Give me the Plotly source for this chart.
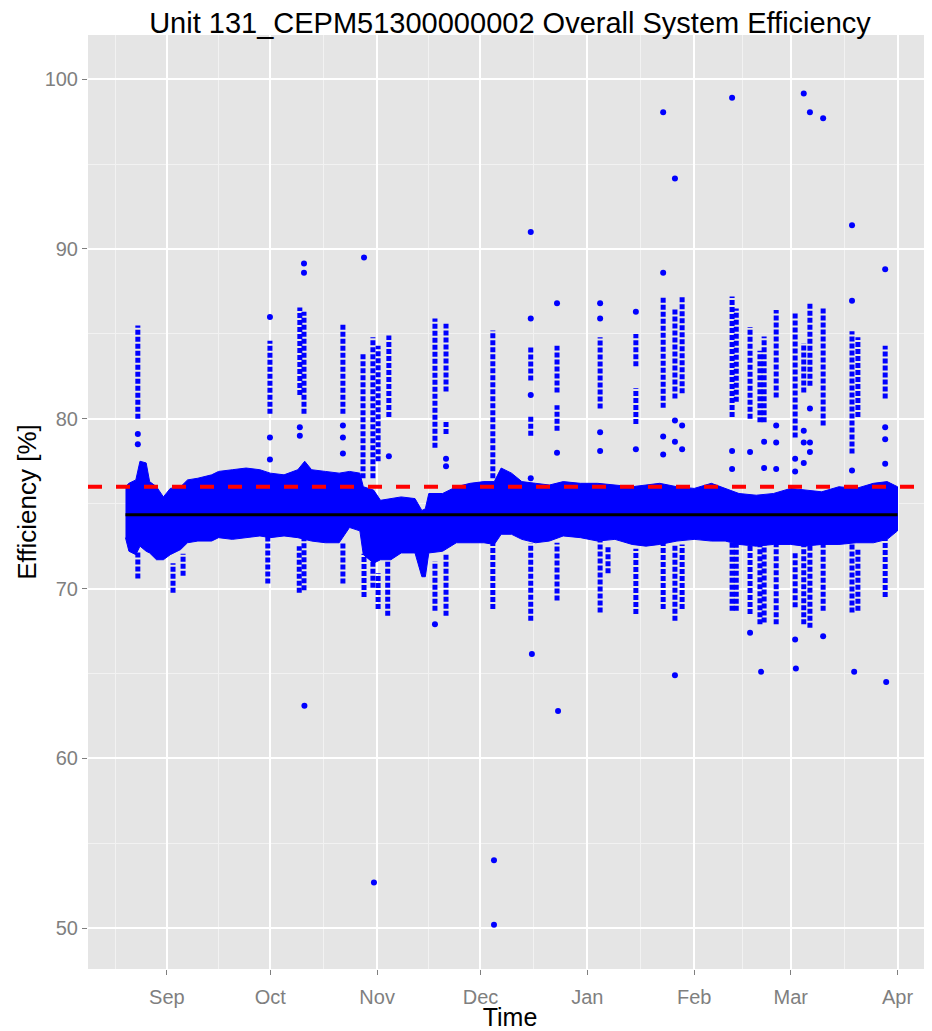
import plotly.graph_objects as go
import pandas as pd

title_text = "Unit 131_CEPM51300000002 Overall System Efficiency"
x_title = "Time"
y_title = "Efficiency [%]"

month_ticks = ["2013-09-01", "2013-10-01", "2013-11-01", "2013-12-01",
               "2014-01-01", "2014-02-01", "2014-03-01", "2014-04-01"]
month_labels = ["Sep", "Oct", "Nov", "Dec", "Jan", "Feb", "Mar", "Apr"]
y_ticks = [50, 60, 70, 80, 90, 100]
y_minor = [55, 65, 75, 85, 95]

# envelope of the dense cloud of efficiency readings
band_dates = ["2013-08-20 00:00", "2013-08-21 00:00", "2013-08-23 00:00", "2013-08-24 05:00",
              "2013-08-26 00:00", "2013-08-27 00:00", "2013-08-29 00:00", "2013-08-31 00:00",
              "2013-09-02 00:00", "2013-09-05 00:00", "2013-09-07 00:00", "2013-09-10 00:00",
              "2013-09-14 00:00", "2013-09-16 00:00", "2013-09-20 00:00", "2013-09-24 00:00",
              "2013-09-28 00:00", "2013-10-01 00:00", "2013-10-05 00:00", "2013-10-09 00:00",
              "2013-10-11 00:00", "2013-10-13 00:00", "2013-10-17 00:00", "2013-10-21 00:00",
              "2013-10-24 00:00", "2013-10-27 00:00", "2013-10-28 00:00", "2013-10-31 00:00",
              "2013-11-02 00:00", "2013-11-05 00:00", "2013-11-08 00:00", "2013-11-12 00:00",
              "2013-11-14 00:00", "2013-11-15 00:00", "2013-11-16 00:00", "2013-11-20 00:00",
              "2013-11-24 00:00", "2013-11-28 00:00", "2013-12-02 00:00", "2013-12-05 00:00",
              "2013-12-07 00:00", "2013-12-10 00:00", "2013-12-13 00:00", "2013-12-17 00:00",
              "2013-12-21 00:00", "2013-12-25 00:00", "2013-12-30 00:00", "2014-01-04 00:00",
              "2014-01-09 00:00", "2014-01-14 00:00", "2014-01-18 00:00", "2014-01-22 00:00",
              "2014-01-27 00:00", "2014-02-01 00:00", "2014-02-06 00:00", "2014-02-10 00:00",
              "2014-02-14 00:00", "2014-02-19 00:00", "2014-02-24 00:00", "2014-03-01 00:00",
              "2014-03-05 00:00", "2014-03-10 00:00", "2014-03-15 00:00", "2014-03-20 00:00",
              "2014-03-25 00:00", "2014-03-29 00:00", "2014-04-01 00:00"]
band_upper = [76.0, 76.2, 76.4, 77.5, 77.4, 76.3, 76.0, 75.4,
              75.9, 76.0, 76.4, 76.5, 76.7, 76.9, 77.0, 77.1,
              77.0, 76.8, 76.7, 77.0, 77.5, 77.0, 76.9, 76.8,
              76.9, 76.8, 76.0, 75.8, 75.2, 75.3, 75.4, 75.3,
              74.6, 74.7, 75.6, 75.6, 76.0, 76.2, 76.3, 76.3,
              77.1, 76.8, 76.3, 76.2, 76.1, 76.3, 76.2, 76.2,
              76.1, 76.0, 76.1, 76.2, 76.0, 75.9, 76.2, 75.9,
              75.6, 75.5, 75.6, 75.9, 75.8, 75.7, 76.0, 75.9,
              76.2, 76.3, 76.0]
band_lower = [73.0, 72.2, 72.0, 72.5, 72.2, 72.1, 71.7, 71.7,
              72.0, 72.3, 72.7, 72.8, 72.8, 73.0, 72.9, 73.0,
              73.1, 73.0, 73.1, 73.0, 72.9, 72.8, 72.7, 72.7,
              73.6, 73.4, 72.0, 71.5, 71.7, 71.7, 72.1, 72.1,
              70.7, 70.7, 72.1, 72.2, 72.7, 72.7, 72.7, 72.6,
              73.2, 73.2, 72.9, 72.7, 72.8, 73.1, 73.0, 72.8,
              72.9, 72.6, 72.5, 72.6, 72.8, 72.9, 72.8, 72.8,
              72.6, 72.5, 72.6, 72.6, 72.5, 72.6, 72.6, 72.7,
              72.7, 72.9, 73.4]

# vertical streaks of readings (date, lowest, highest)
streak_dates = ["2013-08-23 14:00", "2013-09-30 22:00", "2013-10-09 14:00", "2013-10-10 19:00",
                "2013-10-22 02:00", "2013-10-27 22:00", "2013-10-30 19:00", "2013-11-01 07:00",
                "2013-11-04 10:00", "2013-11-17 19:00", "2013-11-21 00:00", "2013-11-21 00:00",
                "2013-12-04 14:00", "2013-12-15 14:00", "2013-12-15 14:00", "2013-12-23 05:00",
                "2013-12-23 05:00", "2014-01-04 17:00", "2014-01-15 02:00", "2014-01-15 02:00",
                "2014-01-23 00:00", "2014-01-26 10:00", "2014-01-28 12:00", "2014-02-12 00:00",
                "2014-02-13 05:00", "2014-02-17 05:00", "2014-02-20 02:00", "2014-02-21 07:00",
                "2014-02-24 19:00", "2014-03-02 07:00", "2014-03-04 19:00", "2014-03-06 14:00",
                "2014-03-10 10:00", "2014-03-18 19:00", "2014-03-20 12:00", "2014-03-28 10:00",
                "2013-08-23 14:00", "2013-09-02 19:00", "2013-09-05 17:00", "2013-09-30 07:00",
                "2013-10-09 10:00", "2013-10-10 19:00", "2013-10-22 02:00", "2013-10-28 05:00",
                "2013-10-30 19:00", "2013-11-01 07:00", "2013-11-04 02:00", "2013-11-17 19:00",
                "2013-11-21 00:00", "2013-12-04 14:00", "2013-12-15 14:00", "2013-12-23 05:00",
                "2014-01-04 17:00", "2014-01-07 00:00", "2014-01-15 02:00", "2014-01-23 00:00",
                "2014-01-26 10:00", "2014-01-28 12:00", "2014-02-12 00:00", "2014-02-13 05:00",
                "2014-02-17 05:00", "2014-02-20 02:00", "2014-02-21 07:00", "2014-02-24 19:00",
                "2014-03-02 07:00", "2014-03-04 19:00", "2014-03-06 14:00", "2014-03-10 10:00",
                "2014-03-18 19:00", "2014-03-20 12:00", "2014-03-28 10:00"]
streak_low = [80.0, 80.3, 81.4, 80.3, 80.3, 76.5, 76.5, 77.5,
              80.1, 78.3, 81.6, 79.1, 76.5, 82.25, 79.0, 81.55,
              79.3, 80.6, 83.1, 79.7, 80.65, 81.2, 81.5, 80.1,
              81.0, 80.0, 79.8, 79.8, 81.25, 78.9, 81.55, 81.95,
              79.6, 77.95, 80.1, 81.2,
              70.6, 69.75, 70.75, 70.3, 69.75, 69.9, 70.3, 69.5,
              70.05, 68.8, 68.4, 68.7, 68.4, 68.8, 68.1, 69.3,
              68.6, 70.9, 68.5, 68.8, 68.1, 68.8, 68.7, 68.7,
              68.5, 67.9, 68.0, 67.9, 68.9, 67.9, 67.7, 68.7,
              68.6, 68.7, 69.5]
streak_high = [85.5, 84.6, 86.55, 86.3, 85.55, 83.9, 84.8, 84.3,
               84.9, 85.9, 85.6, 79.9, 85.2, 84.2, 80.2, 84.3,
               80.8, 84.8, 85.0, 81.8, 87.15, 86.55, 87.15, 87.2,
               86.5, 85.4, 84.0, 84.85, 86.4, 86.3, 84.45, 86.8,
               86.6, 85.15, 84.8, 84.3,
               72.2, 71.5, 72.05, 73.1, 72.5, 73.0, 72.65, 72.05,
               71.65, 70.9, 71.6, 71.6, 72.1, 72.65, 72.65, 72.7,
               72.8, 72.5, 72.35, 72.8, 72.6, 72.6, 72.7, 72.7,
               72.7, 72.7, 72.7, 72.7, 72.2, 72.7, 72.7, 72.7,
               72.8, 72.4, 72.9]

# isolated readings
outlier_dates = ["2013-08-23 14:00", "2013-08-23 14:00", "2013-09-30 22:00", "2013-09-30 22:00",
                 "2013-09-30 22:00", "2013-10-09 14:00", "2013-10-09 14:00", "2013-10-10 19:00",
                 "2013-10-10 19:00", "2013-10-10 22:00", "2013-10-22 02:00", "2013-10-22 02:00",
                 "2013-10-22 02:00", "2013-10-28 05:00", "2013-10-31 02:00", "2013-11-04 10:00",
                 "2013-11-17 19:00", "2013-11-21 00:00", "2013-11-21 00:00", "2013-12-04 22:00",
                 "2013-12-04 22:00", "2013-12-15 14:00", "2013-12-15 14:00", "2013-12-15 14:00",
                 "2013-12-15 14:00", "2013-12-15 22:00", "2013-12-23 05:00", "2013-12-23 05:00",
                 "2013-12-23 12:00", "2014-01-04 17:00", "2014-01-04 17:00", "2014-01-04 17:00",
                 "2014-01-04 17:00", "2014-01-15 02:00", "2014-01-15 02:00", "2014-01-23 00:00",
                 "2014-01-23 00:00", "2014-01-23 00:00", "2014-01-23 00:00", "2014-01-26 10:00",
                 "2014-01-26 10:00", "2014-01-26 10:00", "2014-01-26 10:00", "2014-01-28 12:00",
                 "2014-01-28 12:00", "2014-02-12 00:00", "2014-02-12 00:00", "2014-02-12 00:00",
                 "2014-02-17 05:00", "2014-02-17 05:00", "2014-02-20 10:00", "2014-02-21 07:00",
                 "2014-02-21 07:00", "2014-02-24 19:00", "2014-02-24 19:00", "2014-02-24 19:00",
                 "2014-03-02 07:00", "2014-03-02 07:00", "2014-03-02 07:00", "2014-03-02 12:00",
                 "2014-03-04 19:00", "2014-03-04 19:00", "2014-03-04 19:00", "2014-03-04 19:00",
                 "2014-03-06 14:00", "2014-03-06 14:00", "2014-03-06 14:00", "2014-03-06 14:00",
                 "2014-03-10 10:00", "2014-03-10 10:00", "2014-03-18 19:00", "2014-03-18 19:00",
                 "2014-03-18 19:00", "2014-03-19 10:00", "2014-03-28 10:00", "2014-03-28 10:00",
                 "2014-03-28 10:00", "2014-03-28 10:00", "2014-03-28 17:00"]
outlier_values = [79.1, 78.5, 86.0, 78.9,
                  77.6, 79.5, 79.0, 89.15,
                  88.6, 63.1, 79.6, 78.9,
                  77.95, 89.5, 52.7, 77.8,
                  67.9, 77.65, 77.2, 54.0,
                  50.2, 91.0, 85.9, 81.4,
                  76.5, 66.15, 86.8, 78.0,
                  62.8, 86.8, 85.9, 79.2,
                  78.1, 86.3, 78.2, 98.05,
                  88.6, 78.95, 77.9, 94.15,
                  79.9, 78.65, 64.9, 79.6,
                  78.2, 98.9, 78.1, 77.05,
                  78.05, 67.4, 65.1, 78.65,
                  77.1, 79.6, 78.6, 77.05,
                  77.65, 76.9, 67.0, 65.3,
                  99.15, 79.3, 78.6, 77.4,
                  98.05, 80.6, 78.6, 78.05,
                  97.7, 67.2, 91.4, 86.95,
                  76.95, 65.1, 88.8, 79.5,
                  78.8, 77.35, 64.5]

mean_efficiency = 74.35
target_efficiency = 76.0

x_range = ["2013-08-09 03:00", "2014-04-11 00:00"]
y_range = [47.6, 102.6]

BLUE = "#0000FF"
FONT = "Liberation Sans, Arial, sans-serif"

# page body has an 8px margin, so the figure is sized to fill the rest of the window
FIG_W, FIG_H = 924, 1023

# minor gridlines halfway between month ticks (ggplot style)
tick_ts = pd.to_datetime(month_ticks)
mids = [tick_ts[0] - (tick_ts[1] - tick_ts[0]) / 2] + \
       [tick_ts[i] + (tick_ts[i + 1] - tick_ts[i]) / 2 for i in range(len(tick_ts) - 1)]
minor_x = [m.strftime("%Y-%m-%d %H:%M") for m in mids]

fig = go.Figure()

# dense band
fig.add_trace(go.Scatter(
    x=band_dates + band_dates[::-1],
    y=band_upper + band_lower[::-1],
    mode="lines", fill="toself", fillcolor=BLUE,
    line=dict(color=BLUE, width=1), hoverinfo="skip", showlegend=False))

# vertical streaks
sx, sy = [], []
for d, lo, hi in zip(streak_dates, streak_low, streak_high):
    sx += [d, d, None]
    sy += [lo, hi, None]
fig.add_trace(go.Scatter(
    x=sx, y=sy, mode="lines",
    line=dict(color=BLUE, width=5, dash="5px,2px"),
    hoverinfo="skip", showlegend=False))

# isolated points
fig.add_trace(go.Scatter(
    x=outlier_dates, y=outlier_values, mode="markers",
    marker=dict(color=BLUE, size=6, line=dict(width=0)),
    showlegend=False))

# mean line over the data span
fig.add_trace(go.Scatter(
    x=[band_dates[0], band_dates[-1]], y=[mean_efficiency, mean_efficiency],
    mode="lines", line=dict(color="black", width=3), showlegend=False))

# target line across the panel
fig.add_shape(type="line", xref="x domain", yref="y", x0=0, x1=1,
              y0=target_efficiency, y1=target_efficiency,
              line=dict(color="#FF0000", width=4, dash="14px,14px"))

fig.update_layout(
    width=FIG_W, height=FIG_H,
    margin=dict(l=80, r=0, t=27, b=62),
    paper_bgcolor="white", plot_bgcolor="#E5E5E5",
    font=dict(family=FONT, color="black"),
    title=dict(text=title_text, x=0.5, xref="paper", xanchor="center",
               y=1 - 15 / FIG_H, yref="container", yanchor="middle",
               font=dict(size=29, family=FONT, color="black")),
    showlegend=False,
)
fig.update_xaxes(
    type="date", range=x_range,
    tickmode="array", tickvals=month_ticks, ticktext=month_labels,
    tickfont=dict(size=20, color="#7F7F7F", family=FONT),
    ticks="outside", ticklen=5, tickwidth=1, tickcolor="#7F7F7F",
    ticklabelstandoff=5,
    showgrid=True, gridcolor="white", gridwidth=2,
    minor=dict(tickmode="array", tickvals=minor_x, showgrid=True,
               gridcolor="#F2F2F2", gridwidth=1, ticks=""),
    zeroline=False, showline=False,
    title=dict(text=x_title, font=dict(size=25, color="black", family=FONT), standoff=0),
)
fig.update_yaxes(
    range=y_range,
    tickmode="array", tickvals=y_ticks,
    tickfont=dict(size=20, color="#7F7F7F", family=FONT),
    ticks="outside", ticklen=5, tickwidth=1, tickcolor="#7F7F7F",
    showgrid=True, gridcolor="white", gridwidth=2,
    minor=dict(tickmode="array", tickvals=y_minor, showgrid=True,
               gridcolor="#F2F2F2", gridwidth=1, ticks=""),
    zeroline=False, showline=False,
    title=dict(text=y_title, font=dict(size=26, color="black", family=FONT), standoff=0),
)

fig.write_html("out.html")
